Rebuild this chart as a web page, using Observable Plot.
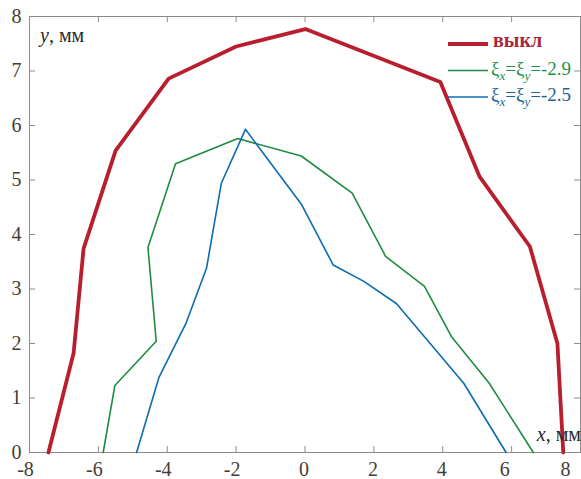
<!DOCTYPE html>
<html><head><meta charset="utf-8">
<script src="https://cdn.jsdelivr.net/npm/d3@7"></script>
<script src="https://cdn.jsdelivr.net/npm/@observablehq/plot@0.6"></script>
<style>
body{margin:0;background:#fff}
#chart svg{display:block}
#chart svg, #chart svg text, #chart svg tspan { font-family: "Liberation Serif", "Times New Roman", serif !important; }
</style>
</head><body><div id="chart"></div>
<script>
// Data
const offX = [-7.45, -6.72, -6.43, -5.50, -3.96, -2.00, 0.01, 3.93, 5.07, 6.53, 7.33, 7.50];
const offY = [0.00, 1.82, 3.74, 5.54, 6.86, 7.45, 7.77, 6.80, 5.06, 3.78, 2.00, 0.00];

const g29X = [-5.86, -5.52, -4.32, -4.56, -3.76, -1.95, -0.11, 1.37, 2.34, 3.47, 4.25, 5.35, 6.63];
const g29Y = [0.00, 1.23, 2.04, 3.76, 5.30, 5.76, 5.44, 4.76, 3.60, 3.05, 2.13, 1.27, 0.00];

const b25X = [-4.89, -4.24, -3.45, -2.86, -2.43, -1.73, -0.11, 0.82, 1.71, 2.66, 4.61, 5.84];
const b25Y = [0.00, 1.38, 2.38, 3.38, 4.94, 5.93, 4.56, 3.44, 3.14, 2.73, 1.27, 0.00];

const xTicks = [-8, -6, -4, -2, 0, 2, 4, 6, 8];
const xTickLabels = ["-8", "-6", "-4", "-2", "0", "2", "4", "6", "8"];
const yTicks = [0, 1, 2, 3, 4, 5, 6, 7, 8];
const yTickLabels = ["0", "1", "2", "3", "4", "5", "6", "7", "8"];

const seriesNames = ["выкл", "-2.9", "-2.5"];
const seriesColors = ["#b81f2e", "#1e8c40", "#0b6db0"];
const seriesTextColors = ["#a8283a", "#23924c", "#1d6490"];

const toRows = (xs, ys, s) => xs.map((x, i) => ({series: s, x, y: ys[i]}));
const offRows = toRows(offX, offY, seriesNames[0]);
const g29Rows = toRows(g29X, g29Y, seriesNames[1]);
const b25Rows = toRows(b25X, b25Y, seriesNames[2]);

const W = 581, H = 479;
const mL = 29, mR = 1, mT = 16, mB = 27;
const innerW = W - mL - mR, innerH = H - mT - mB;
const tickLen = 6;
const axisColor = "#8c8c8c";
const labelColor = "#463d35";
const serif = "Liberation Serif";

const xl = xTicks.map((d, i) => ({v: d, t: xTickLabels[i]}));
const xText = (data, dx) => Plot.text(data, {x: "v", text: "t", frameAnchor: "bottom", dy: 17, dx, lineAnchor: "middle", fontSize: 20, fontFamily: serif, fill: labelColor});

const chart = Plot.plot({
  width: W, height: H,
  marginLeft: mL, marginRight: mR, marginTop: mT, marginBottom: mB,
  x: {domain: [-8, 8], axis: null},
  y: {domain: [0, 8], axis: null},
  style: {background: "#fff"},
  marks: [
    Plot.frame({stroke: axisColor, strokeWidth: 1}),
    Plot.ruleX(xTicks, {x: d => d, insetTop: innerH - tickLen, stroke: axisColor}),
    Plot.ruleX(xTicks, {x: d => d, insetBottom: innerH - tickLen, stroke: axisColor}),
    Plot.ruleY(yTicks, {y: d => d, insetRight: innerW - tickLen, stroke: axisColor}),
    Plot.ruleY(yTicks, {y: d => d, insetLeft: innerW - tickLen, stroke: axisColor}),
    Plot.line(offRows, {x: "x", y: "y", stroke: seriesColors[0], strokeWidth: 3.8, strokeLinejoin: "miter"}),
    Plot.line(g29Rows, {x: "x", y: "y", stroke: seriesColors[1], strokeWidth: 1.6}),
    Plot.line(b25Rows, {x: "x", y: "y", stroke: seriesColors[2], strokeWidth: 1.6}),
    // x tick labels
    xText(xl.filter(d => d.v < 0), -4),
    xText(xl.filter(d => d.v >= 0 && d.v < 6), -1),
    xText(xl.filter(d => d.v === 6), -7),
    xText(xl.filter(d => d.v === 8), -15),
    // y tick labels
    Plot.text(yTicks, {y: d => d, text: (d, i) => yTickLabels[i], frameAnchor: "left", dx: -8, textAnchor: "end", lineAnchor: "middle", fontSize: 20, fontFamily: serif, fill: labelColor})
  ]
});
document.getElementById("chart").appendChild(chart);

const svg = d3.select(chart);

// axis titles
const yt = svg.append("text").attr("x", 40).attr("y", 42).attr("text-anchor", "start")
  .attr("font-family", serif).attr("font-size", 20).attr("fill", "#2a2a2a");
yt.append("tspan").attr("font-style", "italic").text("y");
yt.append("tspan").text(", мм");

const xt = svg.append("text").attr("x", 581).attr("y", 441).attr("text-anchor", "end")
  .attr("font-family", serif).attr("font-size", 20).attr("fill", "#2a2a2a");
xt.append("tspan").attr("font-style", "italic").text("x");
xt.append("tspan").text(", мм");

// legend
const legY = [44, 70.5, 97];
const legW = [3.8, 1.6, 1.6];
const legBase = [47, 75, 100.5];
seriesNames.forEach((name, i) => {
  svg.append("line").attr("x1", 448).attr("x2", 488).attr("y1", legY[i]).attr("y2", legY[i])
    .attr("stroke", seriesColors[i]).attr("stroke-width", legW[i]);
  const t = svg.append("text").attr("x", 491).attr("y", legBase[i]).attr("text-anchor", "start")
    .attr("font-family", serif).attr("fill", seriesTextColors[i]);
  if (i === 0) {
    t.attr("x", 493).attr("font-size", 20).attr("font-weight", "bold").text(name);
  } else {
    t.attr("font-size", 19);
    t.append("tspan").text("ξ");
    t.append("tspan").attr("font-size", 13).attr("font-style", "italic").attr("dy", 5).text("x");
    t.append("tspan").attr("dy", -5).text("=ξ");
    t.append("tspan").attr("font-size", 13).attr("font-style", "italic").attr("dy", 5).text("y");
    t.append("tspan").attr("dy", -5).text("=" + name);
  }
});
</script>
</body></html>
